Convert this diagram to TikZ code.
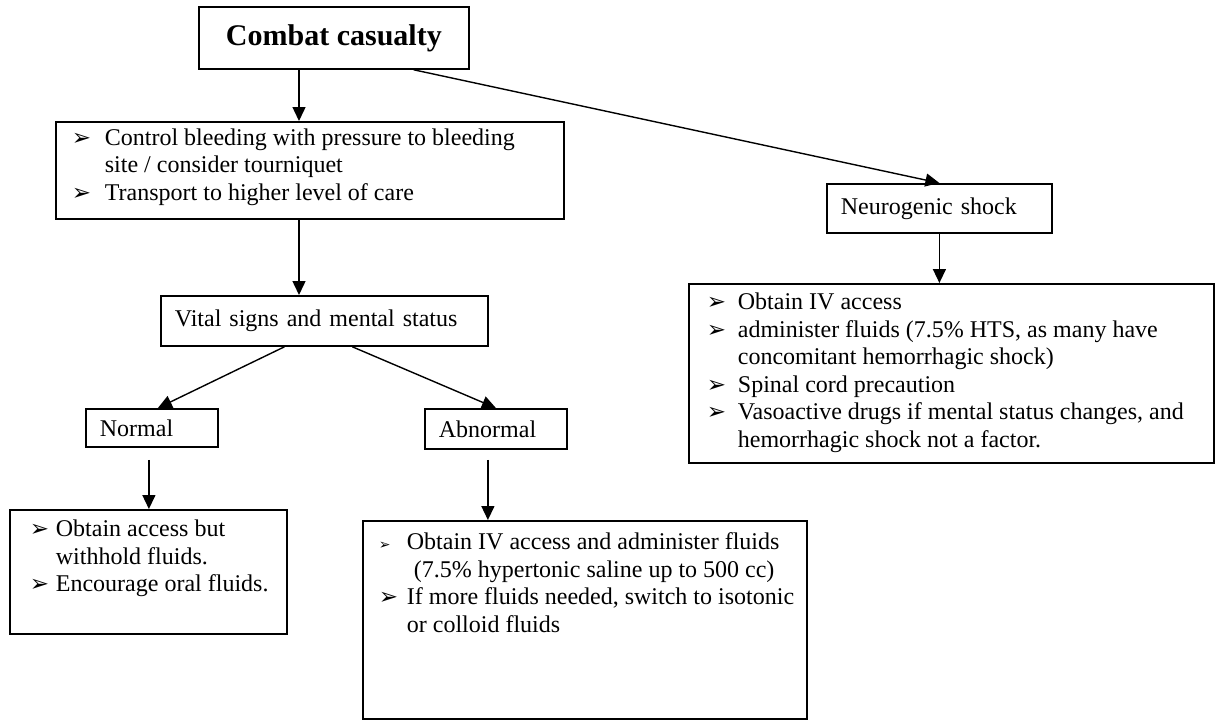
\documentclass[tikz,border=0pt]{standalone}
\usepackage{fontspec}
\setmainfont{Liberation Serif}
\newfontfamily\bulletfont{DejaVu Sans}
\usetikzlibrary{arrows.meta, positioning}

\newlength{\bulw}
\setlength{\bulw}{15.5pt}
\newcommand{\bitem}[2][11.5]{\par\noindent\hangindent=\bulw\hangafter=1%
  \makebox[\bulw][l]{\bulletfont\fontsize{#1}{#1}\selectfont ➢}\strut#2}

\begin{document}
\begin{tikzpicture}[x=0.5pt, y=-0.5pt,
    box/.style={draw, line width=0.9pt, anchor=north west, inner sep=0pt, font=\fontsize{12}{13.75}\selectfont},
    tag/.style={box, align=left, inner xsep=7pt},
    arrow/.style={line width=0.7pt, -{Triangle[length=7pt, width=6.5pt]}}
  ]
  \useasboundingbox (0,0) rectangle (1218,720);

  \node[box, minimum width=135pt, minimum height=31pt, font=\fontsize{15}{18}\selectfont\bfseries] (combat) at (198,6) {Combat casualty};

  \node[box] (ctrl) at (55,121) {\hspace*{8pt}\parbox[c][48.5pt][t]{246pt}{\raggedright\setlength{\bulw}{16.5pt}\vspace*{2pt}%
      \bitem{Control bleeding with pressure to bleeding\newline site / consider tourniquet}
      \bitem{Transport to higher level of care}}};

  \node[tag, text width=149.5pt, minimum height=25pt] (vital) at (160,295) {Vital signs and mental status};
  \node[tag, text width=52pt, minimum height=19pt] (normal) at (85,408) {Normal};
  \node[tag, text width=57pt, minimum height=20pt] (abnormal) at (424,408) {Abnormal};
  \node[tag, text width=98.5pt, minimum height=24.5pt] (neuro) at (826,183) {Neurogenic shock};

  \node[box] (lbox) at (9,509) {\hspace*{10pt}\parbox[c][62pt][t]{128.5pt}{\raggedright\setlength{\bulw}{13pt}\vspace*{3.9pt}%
      \bitem{Obtain access but\newline withhold fluids.}
      \bitem{Encourage oral fluids.}}};

  \node[box] (mbox) at (362,520) {\hspace*{8pt}\parbox[c][99pt][t]{214pt}{\raggedright\setlength{\bulw}{14pt}\vspace*{4.9pt}%
      \bitem[7]{Obtain IV access and administer fluids\newline\hspace*{3.5pt}(7.5\% hypertonic saline up to 500 cc)}
      \bitem{If more fluids needed, switch to isotonic\newline or colloid fluids}}};

  \node[box] (rbox) at (688,283) {\hspace*{9pt}\parbox[c][89.5pt][t]{253.5pt}{\raggedright\setlength{\bulw}{15.5pt}\vspace*{3.4pt}%
      \bitem{Obtain IV access}
      \bitem{administer fluids (7.5\% HTS, as many have\newline concomitant hemorrhagic shock)}
      \bitem{Spinal cord precaution}
      \bitem{Vasoactive drugs if mental status changes, and\newline hemorrhagic shock not a factor.}}};

  \coordinate (spine) at (299,0);
  \draw[arrow] (combat.south -| spine) -- (ctrl.north -| spine);
  \draw[arrow] (ctrl.south -| spine) -- (vital.north -| spine);
  \draw[arrow] ([xshift=-28pt]combat.south east) -- (neuro.north);
  \draw[arrow] (neuro.south) -- (neuro.south |- rbox.north);

  \draw[arrow] ([xshift=-20pt]vital.south) -- ([xshift=3pt]normal.north);
  \draw[arrow] ([xshift=14pt]vital.south) -- (abnormal.north);
  \draw[arrow, shorten <=6pt] ([xshift=-1.5pt]normal.south) -- ([xshift=-1.5pt]normal.south |- lbox.north);
  \draw[arrow, shorten <=5pt] ([xshift=-4pt]abnormal.south) -- ([xshift=-4pt]abnormal.south |- mbox.north);
\end{tikzpicture}
\end{document}
